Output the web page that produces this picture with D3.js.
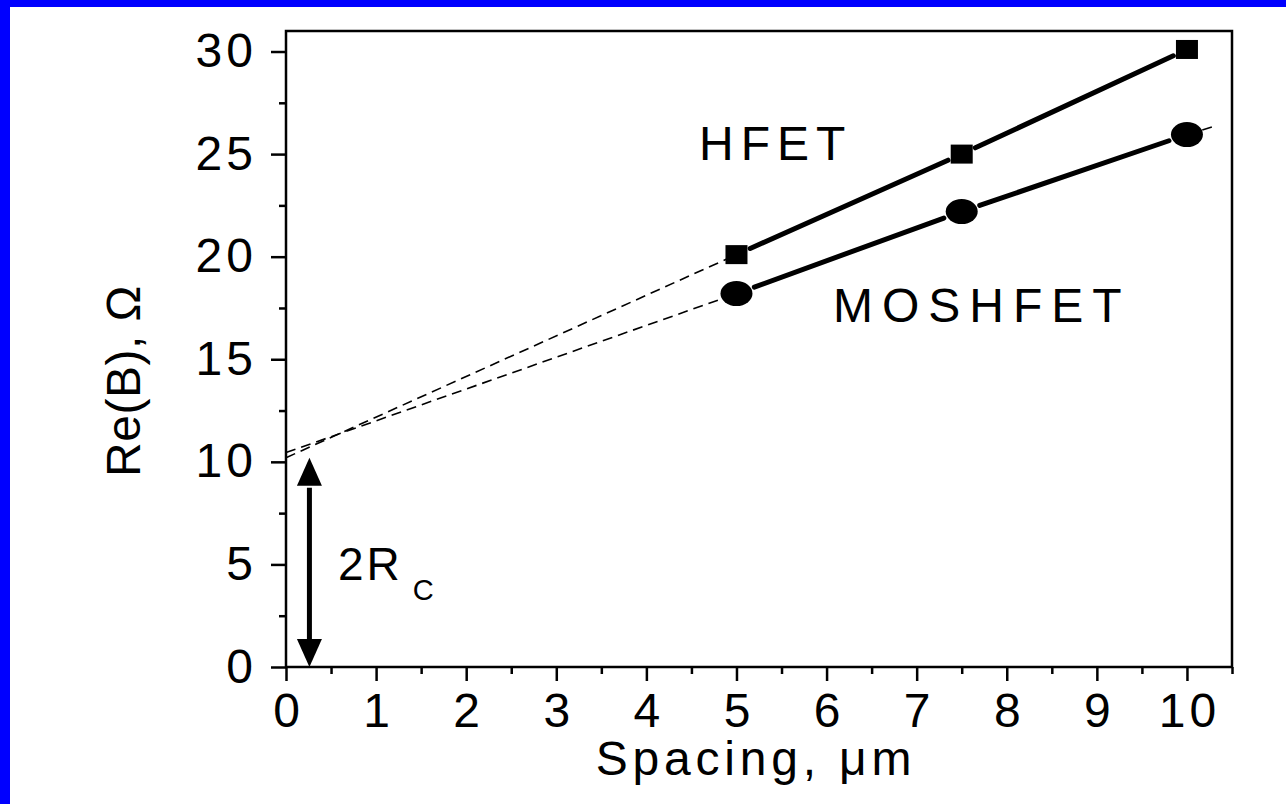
<!DOCTYPE html>
<html>
<head>
<meta charset="utf-8">
<script src="https://cdn.jsdelivr.net/npm/d3@7"></script>
<style>
  body { margin: 0; background: #fff; }
  text { font-family: "Liberation Sans", Arial, sans-serif; fill: #000; }
</style>
</head>
<body>
<div id="chart"></div>
<script>
// Data
const spacing = [5, 7.5, 10]
const hfet = [20.1, 25.0, 30.1]
const moshfet = [18.2, 22.2, 25.95]
// extrapolated fits (dashed), read as endpoints
const hfetFit = [[0, 10.2], [5, 20.1]]
const moshfetFitLeft = [[0, 10.45], [5, 18.2]]
const moshfetFitRight = [[10, 25.95], [10.34, 26.4]]
const xTicks = [0, 1, 2, 3, 4, 5, 6, 7, 8, 9, 10]
const yTicks = [0, 5, 10, 15, 20, 25, 30]
const rcArrow = [0.26, 0, 10]  // x, from, to

const width = 1286,
  height = 804,
  plotLeft = 286,
  plotRight = 1232,
  plotTop = 31,
  plotBottom = 667

const svg = d3.select('#chart')
  .append('svg')
  .attr('width', width)
  .attr('height', height)
  .style('display', 'block')

svg.append('rect').attr('width', width).attr('height', height).attr('fill', '#fff')
// blue edges of the slide
svg.append('rect').attr('x', 0).attr('y', 0).attr('width', width).attr('height', 7).attr('fill', '#0000ff')
svg.append('rect').attr('x', 0).attr('y', 0).attr('width', 10).attr('height', height).attr('fill', '#0000ff')

const x = d3.scaleLinear().domain([0, 10.5]).range([plotLeft, plotRight])
const y = d3.scaleLinear().domain([0, 31]).range([plotBottom, plotTop])

// frame
svg.append('rect')
  .attr('x', plotLeft).attr('y', plotTop)
  .attr('width', plotRight - plotLeft).attr('height', plotBottom - plotTop)
  .attr('fill', 'none').attr('stroke', '#000').attr('stroke-width', 2.5)

// axes
const styleAxis = (g) => {
  g.select('.domain').remove()
  g.selectAll('line').attr('stroke', '#000').attr('stroke-width', 2.5)
  g.selectAll('text')
    .style('font-size', '48px')
    .style('letter-spacing', '4px')
    .style('font-family', '"Liberation Sans", Arial, sans-serif')
    .attr('fill', '#000')
}

svg.append('g')
  .attr('transform', `translate(0, ${plotBottom})`)
  .call(d3.axisBottom(x).tickValues(d3.range(0.5, 10.51, 1)).tickSize(7).tickFormat(''))
  .call(styleAxis)

svg.append('g')
  .attr('transform', `translate(0, ${plotBottom})`)
  .call(d3.axisBottom(x).tickValues(xTicks).tickSize(14).tickFormat(d3.format('d')))
  .call(styleAxis)
  .call(g => g.selectAll('text').attr('dy', null).attr('y', 60).attr('dx', 2))

svg.append('g')
  .attr('transform', `translate(${plotLeft}, 0)`)
  .call(d3.axisLeft(y).tickValues(d3.range(2.5, 30, 5)).tickSize(7).tickFormat(''))
  .call(styleAxis)

svg.append('g')
  .attr('transform', `translate(${plotLeft}, 0)`)
  .call(d3.axisLeft(y).tickValues(yTicks).tickSize(15).tickFormat(d3.format('d')))
  .call(styleAxis)
  .call(g => g.selectAll('text').attr('x', -29).attr('dy', 15))

// axis titles
svg.append('text')
  .attr('x', 756).attr('y', 775)
  .attr('text-anchor', 'middle')
  .style('font-size', '48px')
  .style('letter-spacing', '4.8px')
  .text('Spacing, \u03bcm')

svg.append('text')
  .attr('transform', 'translate(140, 381) rotate(-90)')
  .attr('text-anchor', 'middle')
  .style('font-size', '48px')
  .style('letter-spacing', '0.5px')
  .text('Re(B), \u03a9')

// fit lines (dashed)
const line = d3.line().x(d => x(d[0])).y(d => y(d[1]))
;[hfetFit, moshfetFitLeft, moshfetFitRight].forEach(f => {
  svg.append('path')
    .attr('d', line(f))
    .attr('fill', 'none')
    .attr('stroke', '#000')
    .attr('stroke-width', 1.6)
    .attr('stroke-dasharray', '10,6')
})

// solid segments between points, stopping short of the markers
const segments = (vals, gap) => {
  for (let i = 0; i < spacing.length - 1; i++) {
    const x0 = x(spacing[i]), y0 = y(vals[i])
    const x1 = x(spacing[i + 1]), y1 = y(vals[i + 1])
    const len = Math.hypot(x1 - x0, y1 - y0)
    const ux = (x1 - x0) / len, uy = (y1 - y0) / len
    svg.append('line')
      .attr('x1', x0 + ux * gap).attr('y1', y0 + uy * gap)
      .attr('x2', x1 - ux * gap).attr('y2', y1 - uy * gap)
      .attr('stroke', '#000')
      .attr('stroke-width', 5)
      .attr('stroke-linecap', 'round')
  }
}
segments(hfet, 15)
segments(moshfet, 19)

svg.selectAll('rect.sq')
  .data(spacing)
  .enter()
  .append('rect')
  .attr('class', 'sq')
  .attr('x', (d) => x(d) - 11)
  .attr('y', (d, i) => y(hfet[i]) - 9.5)
  .attr('width', 22)
  .attr('height', 19)
  .attr('fill', '#000')

svg.selectAll('ellipse.dot')
  .data(spacing)
  .enter()
  .append('ellipse')
  .attr('class', 'dot')
  .attr('cx', (d) => x(d))
  .attr('cy', (d, i) => y(moshfet[i]))
  .attr('rx', 16)
  .attr('ry', 12.5)
  .attr('fill', '#000')

// labels
svg.append('text')
  .attr('x', 699).attr('y', 160)
  .style('font-size', '48px')
  .style('letter-spacing', '7px')
  .text('HFET')

svg.append('text')
  .attr('x', 833).attr('y', 322)
  .style('font-size', '48px')
  .style('letter-spacing', '9px')
  .text('MOSHFET')

// 2Rc double arrow
const ax = x(rcArrow[0]), ay0 = y(rcArrow[1]), ay1 = y(rcArrow[2])
const headL = 28, headW = 12.5
svg.append('line')
  .attr('x1', ax).attr('x2', ax)
  .attr('y1', ay1 + headL - 2).attr('y2', ay0 - headL + 2)
  .attr('stroke', '#000').attr('stroke-width', 5)
svg.append('path')
  .attr('d', `M${ax},${ay1 - 4} L${ax - headW},${ay1 + headL - 4} L${ax + headW},${ay1 + headL - 4} Z`)
  .attr('fill', '#000')
svg.append('path')
  .attr('d', `M${ax},${ay0} L${ax - headW},${ay0 - headL} L${ax + headW},${ay0 - headL} Z`)
  .attr('fill', '#000')

const rc = svg.append('text')
  .attr('x', 338).attr('y', 580)
  .style('font-size', '46px')
  .style('letter-spacing', '3px')
rc.append('tspan').text('2R')
rc.append('tspan')
  .attr('dx', 10).attr('dy', 20)
  .style('font-size', '29px')
  .text('C')
</script>
</body>
</html>
